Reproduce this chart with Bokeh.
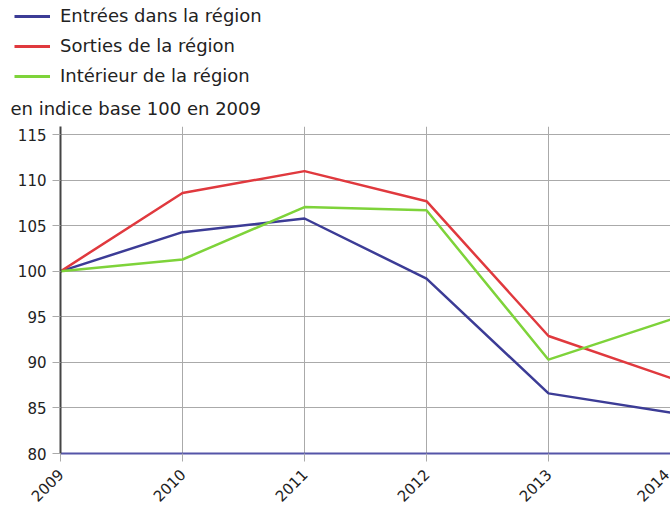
import math
from bokeh.plotting import figure
from bokeh.layouts import column, row
from bokeh.models import Legend, LegendItem, Range1d, FixedTicker
from bokeh.embed import file_html
from bokeh.resources import INLINE

years = [2009, 2010, 2011, 2012, 2013, 2014]
entrees = [100, 104.3, 105.8, 99.2, 86.6, 84.5]
sorties = [100, 108.6, 111.0, 107.7, 92.9, 88.3]
interieur = [100, 101.3, 107.05, 106.7, 90.3, 94.7]
y_ticks = [80, 85, 90, 95, 100, 105, 110, 115]
series_names = ["Entrées dans la région", "Sorties de la région", "Intérieur de la région"]
subtitle = "en indice base 100 en 2009"

FONT = "DejaVu Sans"
colors = ["#3c3c96", "#e0393e", "#7ed33a"]
series = [entrees, sorties, interieur]

W = 670
LEG_H = 87

# ---- legend strip (series drawn outside its visible range; only the legend shows) ----
leg = figure(width=W, height=LEG_H, output_backend="svg", toolbar_location=None,
             x_range=Range1d(2009, 2014), y_range=Range1d(0, 1),
             x_axis_location=None, y_axis_location=None, min_border=0)
leg.grid.visible = False
leg.outline_line_color = None
leg_renderers = []
for vals, c in zip(series, colors):
    leg_renderers.append(leg.line(years, vals, line_color=c, line_width=3))
legend = Legend(items=[LegendItem(label=n, renderers=[r]) for n, r in zip(series_names, leg_renderers)],
                orientation="vertical", location=(14, 1))
legend.border_line_color = None
legend.background_fill_alpha = 0
legend.label_text_font = FONT
legend.label_text_font_size = "18px"
legend.label_text_color = "#222222"
legend.glyph_width = 36
legend.glyph_height = 20
legend.label_height = 20
legend.spacing = 9
legend.padding = 0
legend.margin = 0
legend.label_standoff = 10
leg.add_layout(legend, "center")

# ---- main chart ----
p = figure(width=W, height=513 - LEG_H, output_backend="svg", toolbar_location=None,
           x_range=Range1d(2009, 2014), y_range=Range1d(80, 115.9),
           min_border_left=60, min_border_right=0, min_border_bottom=60,
           min_border_top=0)
p.outline_line_color = None

p.title.text = subtitle
p.title.text_font = FONT
p.title.text_font_size = "18px"
p.title.text_font_style = "normal"
p.title.text_color = "#222222"
p.title.align = "left"
p.title.offset = -50
p.title.standoff = 16

for vals, c in zip(series, colors):
    p.line(years, vals, line_color=c, line_width=2.5)

p.xaxis.ticker = FixedTicker(ticks=years)
p.yaxis.ticker = FixedTicker(ticks=y_ticks)
p.xaxis.major_label_orientation = math.pi / 4
for ax in [p.xaxis[0], p.yaxis[0]]:
    ax.major_label_text_font = FONT
    ax.major_label_text_font_size = "15px"
    ax.major_label_text_color = "#222222"
    ax.minor_tick_line_color = None
    ax.major_tick_line_color = "#aaaaaa"
    ax.major_tick_in = 0
    ax.major_tick_out = 8
p.yaxis.axis_line_color = "#444444"
p.yaxis.axis_line_width = 2
p.xaxis.axis_line_color = "#5555a8"
p.xaxis.axis_line_width = 2
p.xaxis.major_label_standoff = 10
p.yaxis.major_label_standoff = 6

p.xgrid.grid_line_color = "#aaaaaa"
p.ygrid.grid_line_color = "#aaaaaa"

layout = column(row(leg), p, spacing=0)
open("out.html", "w").write(file_html(layout, INLINE))
